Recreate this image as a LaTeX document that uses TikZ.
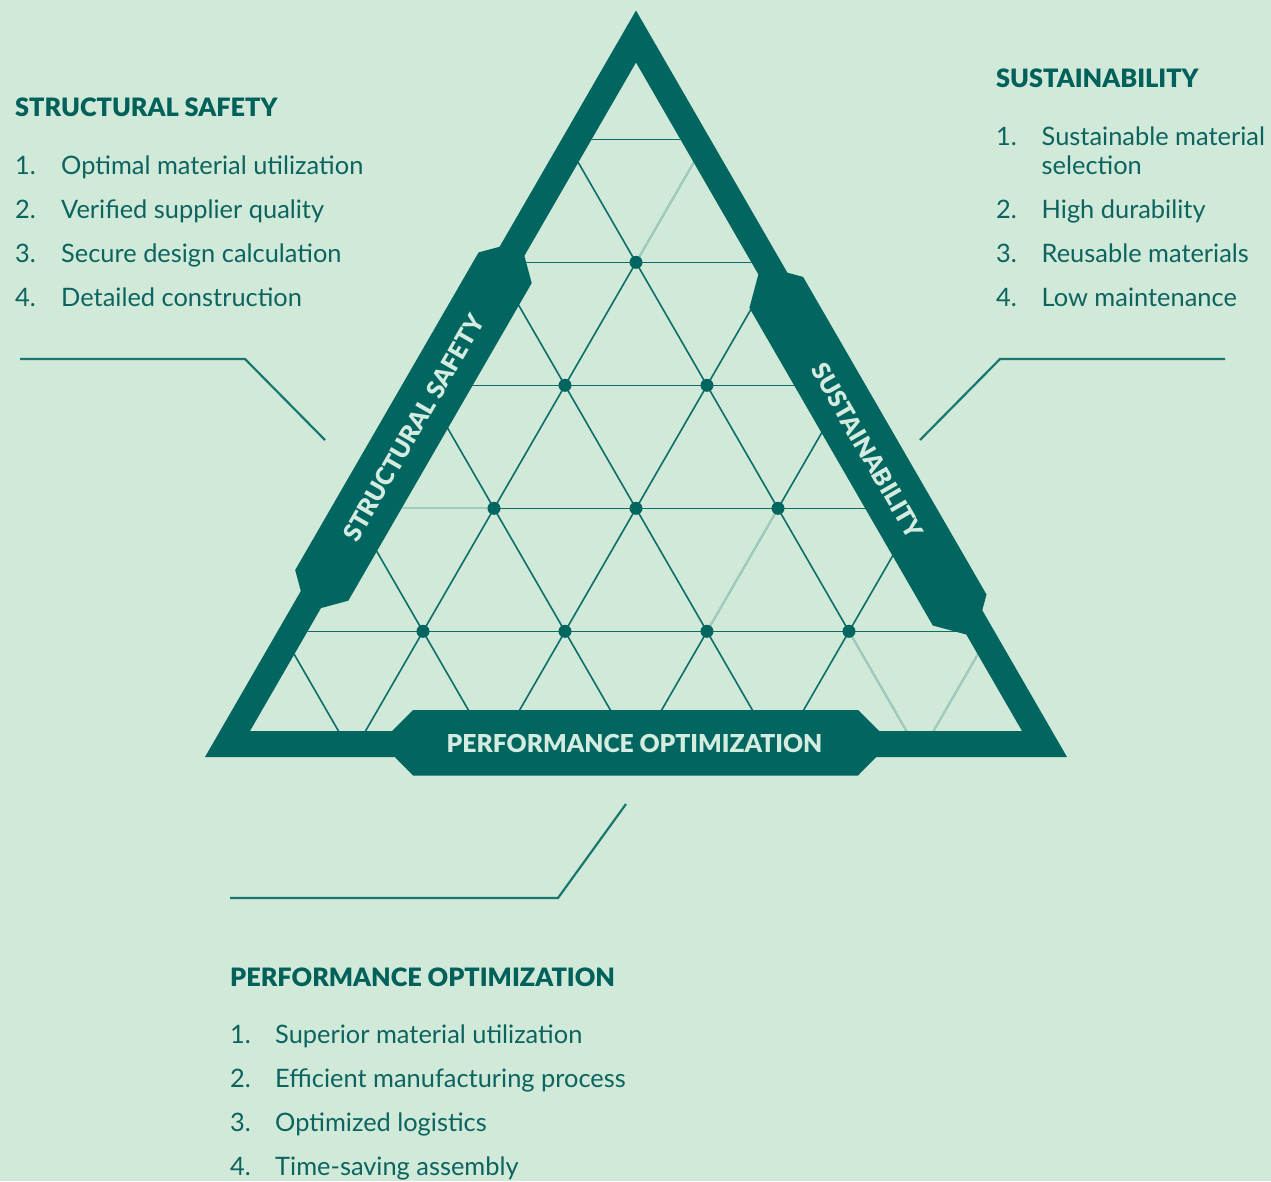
\documentclass[tikz,border=0pt]{standalone}
\usepackage{fontspec}
\setmainfont{Lato}
\newfontfamily\headfont{Lato Black}
\definecolor{bg}{HTML}{D1E9D9}
\definecolor{tdark}{HTML}{00665F}
\definecolor{gridc}{HTML}{0B6E68}
\definecolor{fadec}{HTML}{A2CCBF}
\definecolor{leadc}{HTML}{17786F}
\definecolor{bodyc}{HTML}{0C645F}
\definecolor{headc}{HTML}{00605A}
\definecolor{pale}{HTML}{D4ECDF}
\begin{document}
\begin{tikzpicture}[x=1pt,y=-1pt,
  gridline/.style={draw=gridc, line width=1.6pt},
  fadeline/.style={draw=fadec, line width=2pt},
  dotnode/.style={circle, fill=tdark, inner sep=0pt, minimum size=13pt},
  leader/.style={draw=leadc, line width=2.2pt},
  head/.style={anchor=base west, font=\headfont\fontsize{25.3}{25.3}\selectfont, text=headc, inner sep=0pt},
  item/.style={anchor=base west, font=\fontsize{25.4}{25.4}\selectfont, text=bodyc, inner sep=0pt},
  bannertext/.style={font=\headfont\fontsize{24.7}{24.7}\selectfont, text=pale, inner sep=0pt},
  band/.style={fill=tdark}]
\useasboundingbox (0,0) rectangle (1271,1181);
\fill[bg] (0,0) rectangle (1271,1181);

% lattice grid clipped to the inner triangle
\begin{scope}
\clip (250,731)--(636,62.5)--(1022,731)--cycle;
\foreach \y in {139.3,262.3,385.3,508.3,631.3}
  \draw[gridline] (200,\y) -- (1100,\y);
\foreach \k in {-8,-6,...,0}
  \draw[gridline] ({636+71*\k-157.3},-10) -- ({636+71*\k+310.3},800);
\foreach \k in {0,2,...,8}
  \draw[gridline] ({636+71*\k+157.3},-10) -- ({636+71*\k-310.3},800);
% faded segments
\draw[fadeline] (636,262.3) -- (793.3,-10);
\draw[fadeline] (200,508.3) -- (494,508.3);
\draw[fadeline] (707,631.3) -- (778,508.3);
\draw[fadeline] (849,631.3) -- (946.4,800);
\draw[fadeline] (1361.3,-10) -- (893.7,800);
\end{scope}

% lattice dots
\node[dotnode] (d1) at (636,262.3) {};
\node[dotnode] (d2) at (565,385.3) {};
\node[dotnode] (d3) at (707,385.3) {};
\node[dotnode] (d4) at (494,508.3) {};
\node[dotnode] (d5) at (636,508.3) {};
\node[dotnode] (d6) at (778,508.3) {};
\node[dotnode] (d7) at (423,631.3) {};
\node[dotnode] (d8) at (565,631.3) {};
\node[dotnode] (d9) at (707,631.3) {};
\node[dotnode] (d10) at (849,631.3) {};

% triangle frame
\fill[band, even odd rule] (205,757)--(636,10.5)--(1067,757)--cycle
  (250,731)--(636,62.5)--(1022,731)--cycle;

% banners
\fill[band] (306.4,612.0)--(295.2,570.0)--(478.6,252.4)--(520.5,241.2)--(531.7,283.1)--(348.3,600.7)--cycle;
\fill[band] (975.1,636.9)--(986.5,594.5)--(803.1,276.9)--(760.7,265.6)--(749.4,307.9)--(932.8,625.5)--cycle;
\fill[band] (380.5,742.5)--(413,710)--(858,710)--(890.5,742.5)--(858,775.5)--(413,775.5)--cycle;

\node[bannertext, rotate=60] (bl) at (413.5,428) {STRUCTURAL SAFETY};
\node[bannertext, rotate=-60] (br) at (867.5,451) {SUSTAINABILITY};
\node[bannertext] (bb) at (634.5,743) {PERFORMANCE OPTIMIZATION};

% leader lines
\coordinate (la) at (20,359);
\coordinate (lb) at (245,359);
\coordinate (lc) at (325,440);
\draw[leader] (la) -- (lb) -- (lc);
\coordinate (ra) at (1225,359);
\coordinate (rb) at (1000,359);
\coordinate (rc) at (920,440);
\draw[leader] (ra) -- (rb) -- (rc);
\coordinate (ba) at (230,898);
\coordinate (bb2) at (558,898);
\coordinate (bc) at (626,804);
\draw[leader] (ba) -- (bb2) -- (bc);

% left list
\node[head] (lh) at (15,116) {STRUCTURAL SAFETY};
\node[item] (l1n) at (15,174) {1.};
\node[item] (l1) at (61,174) {Optimal material utilization};
\node[item] (l2n) at (15,218) {2.};
\node[item] (l2) at (61,218) {Verified supplier quality};
\node[item] (l3n) at (15,262) {3.};
\node[item] (l3) at (61,262) {Secure design calculation};
\node[item] (l4n) at (15,306) {4.};
\node[item] (l4) at (61,306) {Detailed construction};

% right list
\node[head] (rh) at (996,87) {SUSTAINABILITY};
\node[item] (r1n) at (996,145) {1.};
\node[item] (r1) at (1041.5,145) {Sustainable material};
\node[item] (r1b) at (1041.5,174) {selection};
\node[item] (r2n) at (996,218) {2.};
\node[item] (r2) at (1041.5,218) {High durability};
\node[item] (r3n) at (996,262) {3.};
\node[item] (r3) at (1041.5,262) {Reusable materials};
\node[item] (r4n) at (996,306) {4.};
\node[item] (r4) at (1041.5,306) {Low maintenance};

% bottom list
\node[head] (bh) at (230,986) {PERFORMANCE OPTIMIZATION};
\node[item] (b1n) at (230,1043) {1.};
\node[item] (b1) at (275,1043) {Superior material utilization};
\node[item] (b2n) at (230,1087) {2.};
\node[item] (b2) at (275,1087) {Efficient manufacturing process};
\node[item] (b3n) at (230,1131) {3.};
\node[item] (b3) at (275,1131) {Optimized logistics};
\node[item] (b4n) at (230,1175) {4.};
\node[item] (b4) at (275,1175) {Time-saving assembly};
\end{tikzpicture}
\end{document}
